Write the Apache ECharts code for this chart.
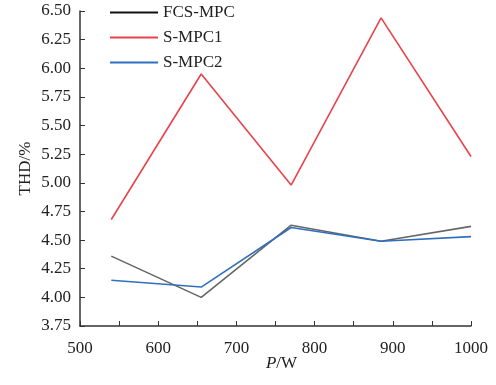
<!DOCTYPE html>
<html>
<head>
<meta charset="utf-8">
<script src="https://cdn.jsdelivr.net/npm/echarts@6/dist/echarts.min.js"></script>
<style>html,body{margin:0;padding:0;background:#fff}#c{width:496px;height:385px}</style>
</head>
<body>
<div id="c"></div>
<script>
var power = [540, 655, 770, 885, 1000];
var fcsMpc = [4.36, 4.00, 4.63, 4.49, 4.62];
var sMpc1 = [4.68, 5.95, 4.98, 6.44, 5.23];
var sMpc2 = [4.15, 4.09, 4.61, 4.49, 4.53];
var seriesNames = ['FCS-MPC', 'S-MPC1', 'S-MPC2'];

function pairs(xs, ys) { return xs.map(function (x, i) { return [x, ys[i]]; }); }

var font = 'Liberation Serif';
var fs = 17;
var chart = echarts.init(document.getElementById('c'));
chart.setOption({
  animation: false,
  textStyle: { fontFamily: font },
  grid: { left: 80, right: 25, top: 11, bottom: 59 },
  legend: {
    orient: 'vertical', left: 110, top: 4, padding: 0,
    icon: 'rect', itemWidth: 48, itemHeight: 2, itemGap: 8,
    textStyle: { fontFamily: font, fontSize: fs, color: '#222', lineHeight: 17 },
    data: [
      { name: seriesNames[0], itemStyle: { color: '#111' } },
      { name: seriesNames[1] },
      { name: seriesNames[2] }
    ]
  },
  xAxis: {
    type: 'value', min: 500, max: 1000, interval: 50,
    name: '{i|P}/W', nameLocation: 'middle', nameGap: 29, nameMoveOverlap: false,
    nameTextStyle: { fontFamily: font, fontSize: fs, color: '#222', padding: [0, 0, 0, 12],
      rich: { i: { fontStyle: 'italic', fontFamily: font, fontSize: fs, color: '#222' } } },
    axisLine: { lineStyle: { color: '#333', width: 1.5 } },
    axisTick: { inside: true, length: 5, lineStyle: { color: '#333' } },
    splitLine: { show: false },
    axisLabel: { fontFamily: font, fontSize: fs, color: '#222', margin: 14,
      formatter: function (v) { return v % 100 === 0 ? String(v) : ''; } }
  },
  yAxis: {
    type: 'value', min: 3.75, max: 6.5, interval: 0.25,
    name: 'THD/%', nameLocation: 'middle', nameGap: 46, nameMoveOverlap: false,
    nameTextStyle: { fontFamily: font, fontSize: fs, color: '#222' },
    axisLine: { show: true, lineStyle: { color: '#333', width: 1.5 } },
    axisTick: { show: true, inside: true, length: 5, lineStyle: { color: '#333' } },
    splitLine: { show: false },
    axisLabel: { fontFamily: font, fontSize: fs, color: '#222', margin: 9,
      formatter: function (v) { return v.toFixed(2); } }
  },
  series: [
    { name: seriesNames[0], type: 'line', symbol: 'none', data: pairs(power, fcsMpc),
      lineStyle: { color: '#666', width: 1.6 }, itemStyle: { color: '#666' } },
    { name: seriesNames[1], type: 'line', symbol: 'none', data: pairs(power, sMpc1),
      lineStyle: { color: '#e8434a', width: 1.6 }, itemStyle: { color: '#e8434a' } },
    { name: seriesNames[2], type: 'line', symbol: 'none', data: pairs(power, sMpc2),
      lineStyle: { color: '#2f6fc0', width: 1.6 }, itemStyle: { color: '#2f6fc0' } }
  ]
});
</script>
</body>
</html>
